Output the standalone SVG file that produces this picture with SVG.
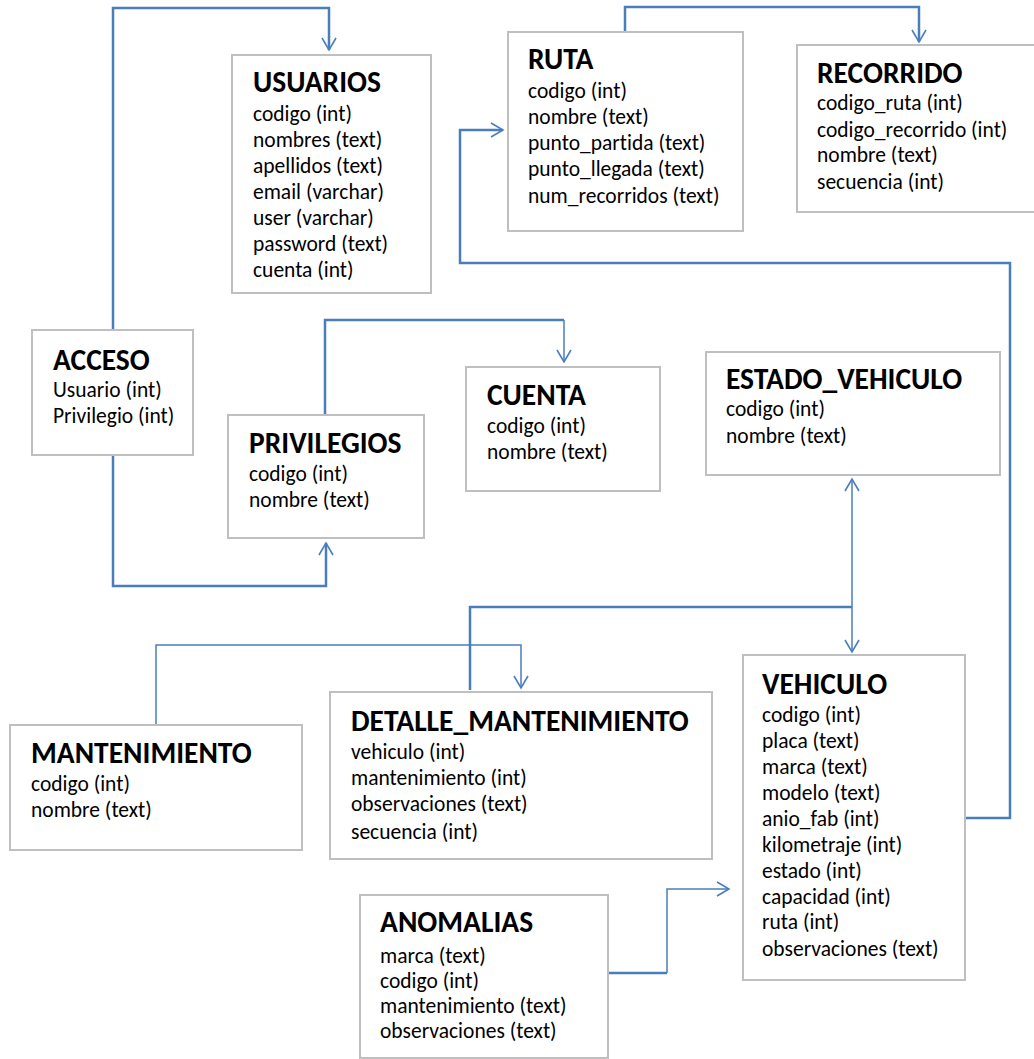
<svg xmlns="http://www.w3.org/2000/svg" width="1034" height="1059" viewBox="0 0 1034 1059">
<defs>
<style>
.box{fill:#fff;stroke:#bfbfbf;stroke-width:2}
.t{font-family:Carlito,Lato,"Liberation Sans",sans-serif;font-weight:bold;font-size:29.5px;fill:#000;font-variant-ligatures:none}
.f{font-family:Carlito,Lato,"Liberation Sans",sans-serif;font-size:21.5px;fill:#000;font-variant-ligatures:none}
.c{fill:none;stroke:#4a7ebb;stroke-width:2.5}
.c2{fill:none;stroke:#4a7ebb;stroke-width:1.5}
</style>
<marker id="a" markerWidth="16" markerHeight="16" refX="13" refY="8" orient="auto" markerUnits="userSpaceOnUse">
<path d="M1,1 L13,8 L1,15" fill="none" stroke="#4a7ebb" stroke-width="1.6"/>
</marker>
<marker id="as" markerWidth="16" markerHeight="16" refX="13" refY="8" orient="auto-start-reverse" markerUnits="userSpaceOnUse">
<path d="M1,1 L13,8 L1,15" fill="none" stroke="#4a7ebb" stroke-width="1.6"/>
</marker>
</defs>
<rect width="1034" height="1059" fill="#fff"/>
<g id="connectors">
<path class="c" d="M113,330 V8 H329 V50" marker-end="url(#a)"/>
<path class="c" d="M625,32 V7 H919 V42" marker-end="url(#a)"/>
<path class="c" d="M965,818 H1010 V263 H460 V130 H503" marker-end="url(#a)"/>
<path class="c" d="M325,415 V320 H564" />
<path class="c2" d="M564,320 V362" marker-end="url(#a)"/>
<path class="c" d="M113,455 V586 H326 V543" marker-end="url(#a)"/>
<path class="c2" d="M852,479 V652" marker-start="url(#as)" marker-end="url(#a)"/>
<path class="c" d="M470,690 V607 H852"/>
<path class="c2" d="M156,725 V645 H521 V688" marker-end="url(#a)"/>
<path class="c" d="M608,973 H667"/>
<path class="c2" d="M667,973 V889 H729" marker-end="url(#a)"/>
</g>
<g id="usuarios">
<rect class="box" x="232" y="55" width="199" height="238"/>
<text class="t" x="253" y="92">USUARIOS</text>
<text class="f" x="253" y="121">codigo (int)</text>
<text class="f" x="253" y="147">nombres (text)</text>
<text class="f" x="253" y="173">apellidos (text)</text>
<text class="f" x="253" y="199">email (varchar)</text>
<text class="f" x="253" y="225">user (varchar)</text>
<text class="f" x="253" y="251">password (text)</text>
<text class="f" x="253" y="277">cuenta (int)</text>
</g>
<g id="ruta">
<rect class="box" x="508" y="32" width="235" height="199"/>
<text class="t" x="528" y="69">RUTA</text>
<text class="f" x="528" y="98">codigo (int)</text>
<text class="f" x="528" y="124">nombre (text)</text>
<text class="f" x="528" y="150">punto_partida (text)</text>
<text class="f" x="528" y="176">punto_llegada (text)</text>
<text class="f" x="528" y="203">num_recorridos (text)</text>
</g>
<g id="recorrido">
<rect class="box" x="797" y="45" width="240" height="167"/>
<text class="t" x="817" y="83">RECORRIDO</text>
<text class="f" x="817" y="110">codigo_ruta  (int)</text>
<text class="f" x="817" y="137">codigo_recorrido (int)</text>
<text class="f" x="817" y="162">nombre (text)</text>
<text class="f" x="817" y="189">secuencia (int)</text>
</g>
<g id="acceso">
<rect class="box" x="32" y="330" width="161" height="125"/>
<text class="t" x="53" y="370">ACCESO</text>
<text class="f" x="53" y="397">Usuario (int)</text>
<text class="f" x="53" y="423">Privilegio (int)</text>
</g>
<g id="privilegios">
<rect class="box" x="228" y="415" width="196" height="123"/>
<text class="t" x="249" y="453">PRIVILEGIOS</text>
<text class="f" x="249" y="481">codigo (int)</text>
<text class="f" x="249" y="507">nombre (text)</text>
</g>
<g id="cuenta">
<rect class="box" x="466" y="367" width="194" height="124"/>
<text class="t" x="487" y="405">CUENTA</text>
<text class="f" x="487" y="433">codigo (int)</text>
<text class="f" x="487" y="459">nombre (text)</text>
</g>
<g id="estado_vehiculo">
<rect class="box" x="706" y="352" width="294" height="123"/>
<text class="t" x="726" y="389">ESTADO_VEHICULO</text>
<text class="f" x="726" y="416">codigo (int)</text>
<text class="f" x="726" y="443">nombre (text)</text>
</g>
<g id="vehiculo">
<rect class="box" x="743" y="655" width="222" height="325"/>
<text class="t" x="762" y="694">VEHICULO</text>
<text class="f" x="762" y="722">codigo (int)</text>
<text class="f" x="762" y="748">placa (text)</text>
<text class="f" x="762" y="774">marca (text)</text>
<text class="f" x="762" y="800">modelo (text)</text>
<text class="f" x="762" y="826">anio_fab (int)</text>
<text class="f" x="762" y="852">kilometraje (int)</text>
<text class="f" x="762" y="878">estado (int)</text>
<text class="f" x="762" y="904">capacidad (int)</text>
<text class="f" x="762" y="929">ruta (int)</text>
<text class="f" x="762" y="956">observaciones (text)</text>
</g>
<g id="mantenimiento">
<rect class="box" x="10" y="725" width="292" height="125"/>
<text class="t" x="31" y="763">MANTENIMIENTO</text>
<text class="f" x="31" y="791">codigo (int)</text>
<text class="f" x="31" y="817">nombre (text)</text>
</g>
<g id="detalle_mantenimiento">
<rect class="box" x="330" y="692" width="382" height="167"/>
<text class="t" x="351" y="731">DETALLE_MANTENIMIENTO</text>
<text class="f" x="351" y="759">vehiculo  (int)</text>
<text class="f" x="351" y="785">mantenimiento (int)</text>
<text class="f" x="351" y="811">observaciones (text)</text>
<text class="f" x="351" y="839">secuencia (int)</text>
</g>
<g id="anomalias">
<rect class="box" x="360" y="895" width="248" height="163"/>
<text class="t" x="380" y="932">ANOMALIAS</text>
<text class="f" x="380" y="963">marca (text)</text>
<text class="f" x="380" y="988">codigo (int)</text>
<text class="f" x="380" y="1013">mantenimiento (text)</text>
<text class="f" x="380" y="1038">observaciones (text)</text>
</g>
</svg>
